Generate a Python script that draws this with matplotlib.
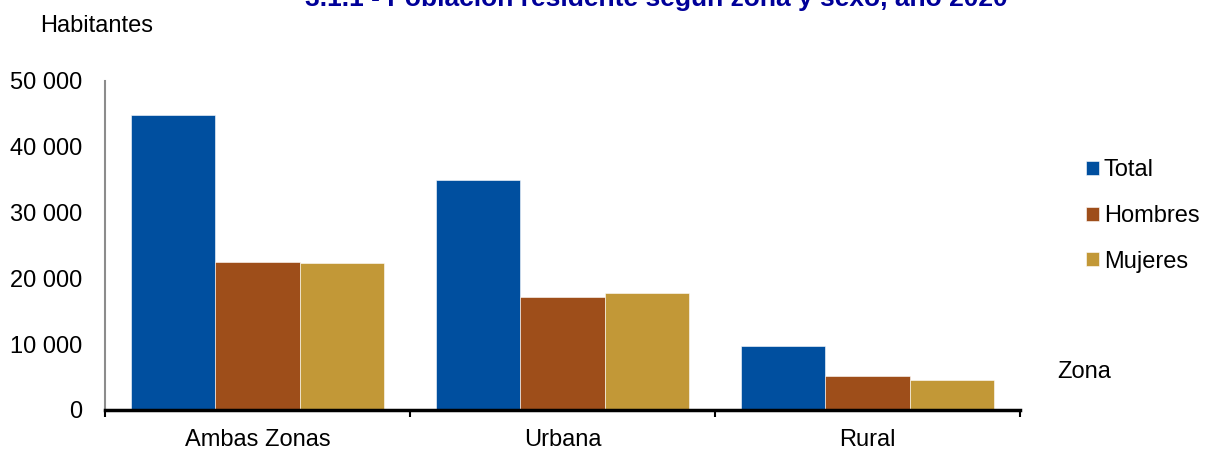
import numpy as np
import matplotlib.pyplot as plt
from matplotlib.ticker import FuncFormatter

plt.rcParams['font.family'] = ['Liberation Sans', 'DejaVu Sans']

# datos
zonas = ['Ambas Zonas', 'Urbana', 'Rural']
series = ['Total', 'Hombres', 'Mujeres']
total = [44830, 34950, 9730]
hombres = [22490, 17170, 5170]
mujeres = [22340, 17780, 4560]
colores = ['#004f9f', '#9e4e1a', '#c29837']

W, H = 1205, 449
fig = plt.figure(figsize=(W / 100, H / 100), dpi=100)
ax = fig.add_axes([105 / W, 1 - 410 / H, (1020 - 105) / W, (410 - 81) / H])

x = np.arange(len(zonas))
ancho = 0.277
for i, (nombre, vals, col) in enumerate(zip(series, [total, hombres, mujeres], colores)):
    ax.bar(x + (i - 1) * ancho, vals, width=ancho, color=col, label=nombre,
           edgecolor='white', linewidth=0.4)

ax.set_xlim(-0.5, 2.5)
ax.set_ylim(0, 50000)
ax.set_yticks(np.arange(0, 50001, 10000))
ax.yaxis.set_major_formatter(FuncFormatter(lambda v, p: f'{int(v):,}'.replace(',', ' ')))
ax.tick_params(axis='y', length=0, pad=16.5, labelsize=17)

# categorias en el centro, marcas en los limites
ax.set_xticks(x)
ax.set_xticklabels(zonas, fontsize=17)
ax.tick_params(axis='x', which='major', length=0, pad=14)
ax.set_xticks([-0.5, 0.5, 1.5, 2.5], minor=True)
ax.tick_params(axis='x', which='minor', length=5, width=1.5, color='black', direction='out')

for s in ['top', 'right']:
    ax.spines[s].set_visible(False)
ax.spines['left'].set_color('#8c8c8c')
ax.spines['left'].set_linewidth(1.5)
ax.spines['bottom'].set_color('black')
ax.spines['bottom'].set_linewidth(2.5)

fig.text(40 / W, 1 - 26 / H, 'Habitantes', fontsize=17, va='center', ha='left')
fig.text(1057 / W, 1 - 372 / H, 'Zona', fontsize=17, va='center', ha='left')
fig.text(656 / W, 1 - 6 / H, '3.1.1 - Población residente según zona y sexo, año 2020',
         fontsize=19, fontweight='bold', color='#000099', ha='center', va='baseline')

ax.legend(loc='center left', bbox_to_anchor=(1065 / W, 1 - 216 / H), bbox_transform=fig.transFigure,
          frameon=False, fontsize=17, handlelength=0.55, handleheight=0.55, handletextpad=0.2,
          labelspacing=1.0)

fig.savefig('out.png', dpi=100)
